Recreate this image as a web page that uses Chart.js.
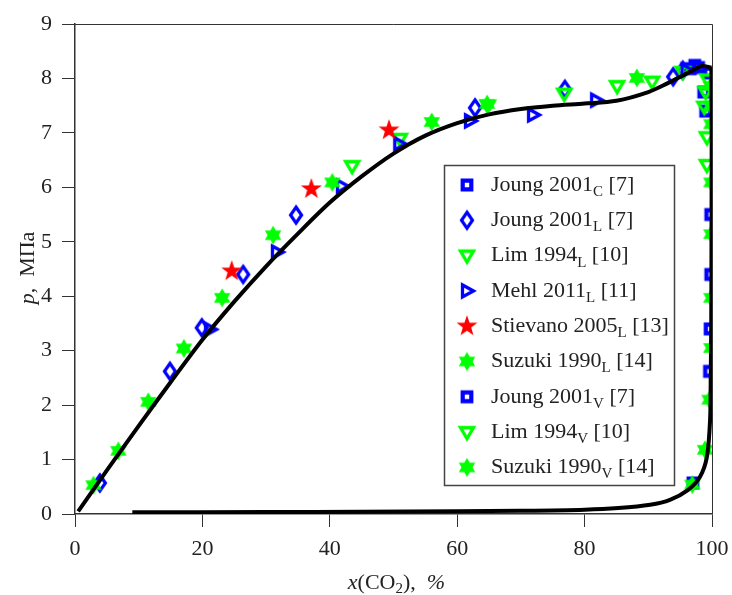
<!DOCTYPE html>
<html>
<head>
<meta charset="utf-8">
<script src="https://cdn.jsdelivr.net/npm/chart.js@4.4.1/dist/chart.umd.min.js"></script>
<style>
  html, body { margin: 0; padding: 0; background: #fff; }
  #chart { display: block; }
</style>
</head>
<body>
<canvas id="chart" width="732" height="595"></canvas>
<script>
(function () {
  'use strict'

  // phase envelope (black curve)
  var bubbleX = [0.5, 5, 10, 15, 20, 25, 30, 35, 40, 45, 50, 55, 60, 65, 70, 75, 80, 85, 90, 93, 95.5, 97.5, 98.4, 99.9]
  var bubbleY = [0.05, 0.8, 1.62, 2.42, 3.2, 3.9, 4.55, 5.15, 5.72, 6.2, 6.62, 6.95, 7.18, 7.34, 7.44, 7.5, 7.54, 7.59, 7.75, 7.91, 8.06, 8.18, 8.23, 8.2]
  var dewX = [99.9, 99.95, 99.92, 99.88, 99.8, 99.7, 99.2, 98.1, 96.2, 93.4, 90.3, 85.3, 80, 70, 60, 45, 30, 9]
  var dewY = [8.2, 7, 5, 3.5, 2.5, 1.73, 1.05, 0.68, 0.44, 0.26, 0.17, 0.11, 0.08, 0.06, 0.05, 0.04, 0.035, 0.03]

  // experimental points
  var joungCX = [96.6, 97.3, 97.9]
  var joungCY = [8.18, 8.24, 8.2]
  var joungLX = [3.9, 14.9, 19.9, 26.4, 34.7, 62.8, 76.9, 93.9, 95.4]
  var joungLY = [0.57, 2.62, 3.42, 4.4, 5.49, 7.46, 7.8, 8.03, 8.15]
  var limLX = [43.5, 51.0, 64.8, 76.8, 85.1, 90.6, 95.4]
  var limLY = [6.39, 6.89, 7.5, 7.72, 7.86, 7.94, 8.12]
  var mehlLX = [21.2, 31.7, 41.9, 50.9, 62.0, 71.9, 81.8, 96.0]
  var mehlLY = [3.39, 4.81, 6.02, 6.8, 7.22, 7.33, 7.6, 8.15]
  var stievanoLX = [24.6, 37.1, 49.3]
  var stievanoLY = [4.46, 5.97, 7.05]
  var suzukiLX = [2.9, 6.8, 11.5, 17.1, 23.1, 31.1, 40.4, 56.0, 64.7, 88.2]
  var suzukiLY = [0.53, 1.16, 2.06, 3.04, 3.97, 5.12, 6.09, 7.2, 7.53, 8.01]
  var joungVX = [99.6, 98.7, 99.0, 99.8, 99.8, 99.7, 99.6, 97.0]
  var joungVY = [8.1, 7.75, 7.4, 5.5, 4.4, 3.4, 2.62, 0.57]
  var limVX = [99.3, 99.0, 98.8, 99.2, 99.2]
  var limVY = [7.98, 7.75, 7.48, 6.92, 6.41]
  var suzukiVX = [99.8, 99.8, 99.9, 99.9, 99.9, 99.9, 99.9, 99.6, 98.9, 96.9]
  var suzukiVY = [7.86, 7.5, 7.16, 6.09, 5.14, 3.97, 3.05, 2.1, 1.18, 0.54]

  var xTicks = [0, 20, 40, 60, 80, 100]
  var yTicks = [0, 1, 2, 3, 4, 5, 6, 7, 8, 9]

  var BLUE = '#0000ff'
  var GREEN = '#00ff00'
  var RED = '#ff0000'
  var INK = '#222'
  var SERIF = '"Liberation Serif", "DejaVu Serif", serif'

  function pts(xs, ys) {
    return xs.map(function (x, i) { return { x: x, y: ys[i] } })
  }

  // marker images
  function marker(kind, color) {
    var c = document.createElement('canvas')
    c.width = 28
    c.height = 28
    var g = c.getContext('2d')
    g.translate(14, 14)
    g.strokeStyle = color
    g.fillStyle = color
    g.lineJoin = 'miter'
    g.beginPath()
    var i, a, r
    if (kind === 'square') {
      g.lineWidth = 4.2
      g.rect(-4.3, -4.3, 8.6, 8.6)
      g.stroke()
    } else if (kind === 'diamond') {
      g.lineWidth = 3.2
      g.moveTo(0, -8); g.lineTo(5.5, 0); g.lineTo(0, 8); g.lineTo(-5.5, 0)
      g.closePath()
      g.stroke()
    } else if (kind === 'down') {
      g.lineWidth = 3.3
      g.moveTo(-6.5, -4.5); g.lineTo(6.5, -4.5); g.lineTo(0, 6.5)
      g.closePath()
      g.stroke()
    } else if (kind === 'right') {
      g.lineWidth = 3.3
      g.moveTo(-4.5, -6); g.lineTo(6.5, 0); g.lineTo(-4.5, 6)
      g.closePath()
      g.stroke()
    } else if (kind === 'star5') {
      for (i = 0; i < 10; i++) {
        a = -Math.PI / 2 + i * Math.PI / 5
        r = i % 2 ? 4.4 : 11
        g.lineTo(r * Math.cos(a), r * Math.sin(a))
      }
      g.closePath()
      g.fill()
    } else if (kind === 'star6') {
      for (i = 0; i < 12; i++) {
        a = -Math.PI / 2 + i * Math.PI / 6
        r = i % 2 ? 5.5 : 9.5
        g.lineTo(r * Math.cos(a), r * Math.sin(a))
      }
      g.closePath()
      g.fill()
    }
    return c
  }

  var series = [
    { label: ['Joung 2001', 'C', ' [7]'], x: joungCX, y: joungCY, img: marker('square', BLUE) },
    { label: ['Joung 2001', 'L', ' [7]'], x: joungLX, y: joungLY, img: marker('diamond', BLUE) },
    { label: ['Lim 1994', 'L', ' [10]'], x: limLX, y: limLY, img: marker('down', GREEN) },
    { label: ['Mehl 2011', 'L', ' [11]'], x: mehlLX, y: mehlLY, img: marker('right', BLUE) },
    { label: ['Stievano 2005', 'L', ' [13]'], x: stievanoLX, y: stievanoLY, img: marker('star5', RED) },
    { label: ['Suzuki 1990', 'L', ' [14]'], x: suzukiLX, y: suzukiLY, img: marker('star6', GREEN) },
    { label: ['Joung 2001', 'V', ' [7]'], x: joungVX, y: joungVY, img: marker('square', BLUE) },
    { label: ['Lim 1994', 'V', ' [10]'], x: limVX, y: limVY, img: marker('down', GREEN) },
    { label: ['Suzuki 1990', 'V', ' [14]'], x: suzukiVX, y: suzukiVY, img: marker('star6', GREEN) }
  ]

  var datasets = [
    { label: 'bubble', data: pts(bubbleX, bubbleY), showLine: true, borderColor: '#000', borderWidth: 4, pointRadius: 0, tension: 0.3, order: 0 },
    { label: 'dew', data: pts(dewX, dewY), showLine: true, borderColor: '#000', borderWidth: 4, pointRadius: 0, tension: 0.3, order: 0 }
  ]
  series.forEach(function (s, i) {
    datasets.push({
      label: s.label.join(''),
      data: pts(s.x, s.y),
      showLine: false,
      pointStyle: s.img,
      pointRadius: 8,
      order: 20 - i
    })
  })

  // draws a run of [text, font, dy] pieces starting at x
  function drawRuns(ctx, runs, x, y) {
    runs.forEach(function (r) {
      ctx.font = r[1]
      ctx.fillText(r[0], x, y + (r[2] || 0))
      x += ctx.measureText(r[0]).width
    })
  }
  function runsWidth(ctx, runs) {
    var w = 0
    runs.forEach(function (r) { ctx.font = r[1]; w += ctx.measureText(r[0]).width })
    return w
  }

  var decorations = {
    id: 'decorations',
    afterDraw: function (chart) {
      var ctx = chart.ctx
      var a = chart.chartArea
      ctx.save()
      // top and right frame
      ctx.strokeStyle = '#333'
      ctx.lineWidth = 1
      ctx.beginPath()
      ctx.moveTo(a.left, a.top + 0.5)
      ctx.lineTo(a.right + 0.5, a.top + 0.5)
      ctx.lineTo(a.right + 0.5, a.bottom)
      ctx.stroke()

      ctx.fillStyle = INK
      ctx.textBaseline = 'middle'
      var normal = '22px ' + SERIF
      var ital = 'italic 22px ' + SERIF
      var small = '15px ' + SERIF

      // y title
      var yRuns = [['p', ital], [',  МПа', normal]]
      ctx.save()
      ctx.translate(28, 268)
      ctx.rotate(-Math.PI / 2)
      drawRuns(ctx, yRuns, -runsWidth(ctx, yRuns) / 2, 0)
      ctx.restore()

      // x title
      var xRuns = [['x', ital], ['(CO', normal], ['2', small, 6], ['),  ', normal], ['%', ital]]
      drawRuns(ctx, xRuns, (a.left + a.right) / 2 + 3 - runsWidth(ctx, xRuns) / 2, 583)

      // legend
      var bx = 444.5, by = 165.5, bw = 230, bh = 320
      ctx.fillStyle = '#fff'
      ctx.fillRect(bx, by, bw, bh)
      ctx.strokeStyle = '#444'
      ctx.lineWidth = 1.5
      ctx.strokeRect(bx, by, bw, bh)
      ctx.fillStyle = INK
      series.forEach(function (s, i) {
        var cy = 185 + i * 35.3
        ctx.drawImage(s.img, 467 - 14, cy - 14)
        drawRuns(ctx, [[s.label[0], normal], [s.label[1], small, 7], [s.label[2], normal]], 491, cy)
      })
      ctx.restore()
    }
  }

  // eslint-disable-next-line no-unused-vars
  var chart = new Chart(document.getElementById('chart'), {
    type: 'scatter',
    data: { datasets: datasets },
    options: {
      responsive: false,
      devicePixelRatio: 1,
      animation: false,
      layout: { padding: { top: 24, right: 20, left: 0, bottom: 0 } },
      plugins: { legend: { display: false }, tooltip: { enabled: false } },
      scales: {
        x: {
          type: 'linear',
          min: 0,
          max: 100,
          afterFit: function (s) { s.height = 81; s.paddingLeft = 0; s.paddingRight = 0 },
          afterBuildTicks: function (s) { s.ticks = xTicks.map(function (v) { return { value: v } }) },
          ticks: { color: INK, font: { family: SERIF, size: 22 }, padding: 9, maxRotation: 0 },
          grid: { drawOnChartArea: false, drawTicks: true, tickLength: 13, color: '#333', tickColor: '#333' },
          border: { color: '#333', width: 1.5 }
        },
        y: {
          type: 'linear',
          min: 0,
          max: 9,
          afterFit: function (s) { s.width = 75; s.paddingTop = 0; s.paddingBottom = 0 },
          afterBuildTicks: function (s) { s.ticks = yTicks.map(function (v) { return { value: v } }) },
          ticks: { color: INK, font: { family: SERIF, size: 22 }, padding: 10 },
          grid: { drawOnChartArea: false, drawTicks: true, tickLength: 13, color: '#333', tickColor: '#333' },
          border: { color: '#333', width: 1.5 }
        }
      }
    },
    plugins: [decorations]
  })
}())
</script>
</body>
</html>
